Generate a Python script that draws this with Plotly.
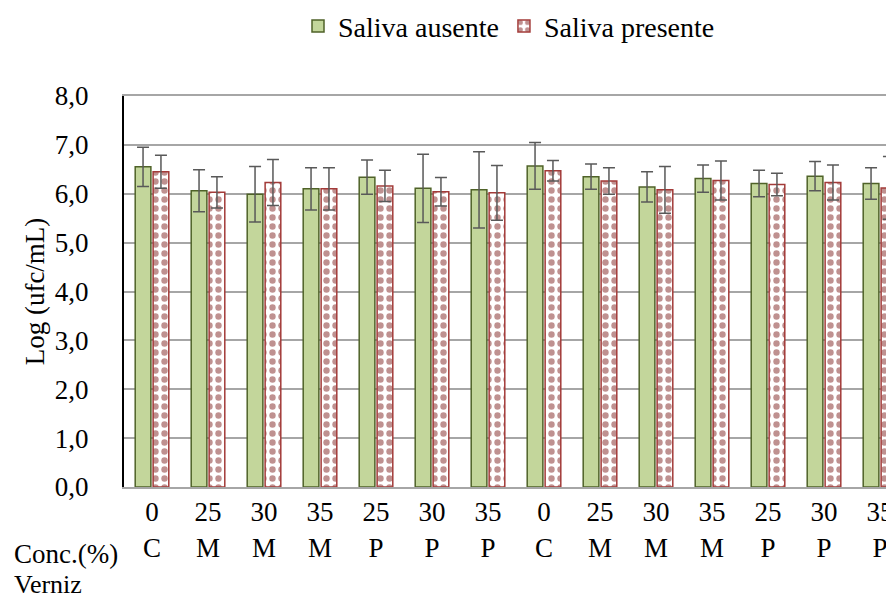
import plotly.graph_objects as go

conc = ["0", "25", "30", "35", "25", "30", "35", "0", "25", "30", "35", "25", "30", "35"]
verniz = ["C", "M", "M", "M", "P", "P", "P", "C", "M", "M", "M", "P", "P", "P"]

ausente = [6.55, 6.06, 5.99, 6.10, 6.34, 6.11, 6.08, 6.57, 6.35, 6.14, 6.31, 6.21, 6.36, 6.21]
ausente_sd = [0.40, 0.43, 0.57, 0.43, 0.35, 0.70, 0.78, 0.48, 0.26, 0.31, 0.28, 0.27, 0.30, 0.32]
presente = [6.45, 6.03, 6.23, 6.10, 6.16, 6.04, 6.02, 6.47, 6.26, 6.08, 6.27, 6.19, 6.23, 6.12]
presente_sd = [0.34, 0.32, 0.47, 0.43, 0.32, 0.29, 0.56, 0.21, 0.27, 0.48, 0.40, 0.23, 0.36, 0.64]

yticks = [0, 1, 2, 3, 4, 5, 6, 7, 8]

FONT = "Liberation Serif"
FS = 27

xs = list(range(len(conc)))
ticktext = [f"{c}<br>{v}" for c, v in zip(conc, verniz)]

fig = go.Figure()
fig.add_trace(go.Bar(
    x=xs, y=ausente, name="Saliva ausente",
    width=0.28, offset=-0.30,
    marker=dict(color="#c3d69b", line=dict(color="#4f6228", width=1.5)),
    error_y=dict(type="data", array=ausente_sd, visible=True,
                 color="#595959", thickness=1.5, width=6),
))
fig.add_trace(go.Bar(
    x=xs, y=presente, name="Saliva presente",
    width=0.28, offset=0.02,
    marker=dict(color="white", line=dict(color="#a33b39", width=1.5),
                pattern=dict(shape=".", fgcolor="#7f2422", bgcolor="white",
                             size=9, solidity=0.4)),
    error_y=dict(type="data", array=presente_sd, visible=True,
                 color="#595959", thickness=1.5, width=6),
))

fig.update_layout(
    width=886, height=590,
    margin=dict(l=116, r=0, t=88, b=111, autoexpand=False),
    paper_bgcolor="white", plot_bgcolor="white",
    separators=",.",
    font=dict(family=FONT, size=FS, color="black"),
    showlegend=True,
    legend=dict(orientation="h", x=0.5, xanchor="center", y=1.178, yanchor="middle",
                font=dict(family=FONT, size=28, color="black"), itemwidth=30,
                traceorder="normal", bgcolor="rgba(0,0,0,0)"),
    barmode="overlay",
    xaxis=dict(range=[-0.5, 13.25], tickmode="array", tickvals=xs, ticktext=ticktext,
               showgrid=False, showline=True, linecolor="#a6a6a6", linewidth=2,
               mirror=True,
               ticks="", zeroline=False, ticklabelstandoff=0,
               tickfont=dict(family=FONT, size=FS)),
    yaxis=dict(range=[0, 8], tickmode="array", tickvals=yticks, tickformat=".1f",
               showgrid=True, gridcolor="#a6a6a6", gridwidth=1.5,
               showline=True, linecolor="black", linewidth=2, zeroline=False,
               ticks="", ticklabelstandoff=28,
               title=dict(text="Log (ufc/mL)", font=dict(family=FONT, size=FS), standoff=2),
               tickfont=dict(family=FONT, size=FS)),
    annotations=[
        dict(text="Conc.(%)", x=-0.146, y=-0.172, xref="paper", yref="paper",
             xanchor="left", yanchor="middle", showarrow=False,
             font=dict(family=FONT, size=27)),
        dict(text="Verniz", x=-0.146, y=-0.250, xref="paper", yref="paper",
             xanchor="left", yanchor="middle", showarrow=False,
             font=dict(family=FONT, size=26)),
    ],
)

fig.write_html("out.html")
